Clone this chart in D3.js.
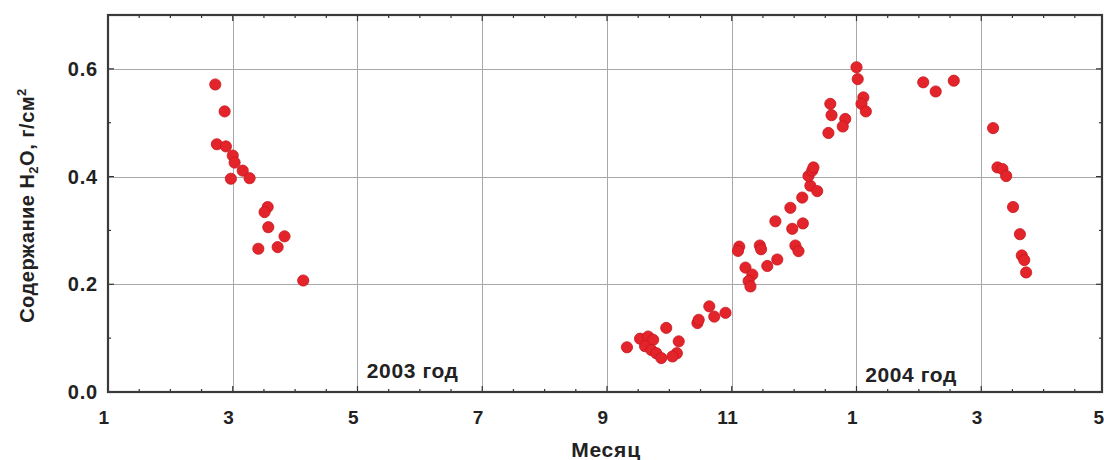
<!DOCTYPE html>
<html>
<head>
<meta charset="utf-8">
<script src="https://cdn.jsdelivr.net/npm/d3@7/dist/d3.min.js"></script>
<style>
  html, body { margin: 0; padding: 0; background: #fff; }
  svg { display: block; }
  text { font-family: "Liberation Sans", Arial, sans-serif; font-weight: bold; fill: #222; }
</style>
</head>
<body>
<svg id="chart" width="1104" height="460"></svg>
<script>
// Month index counted from January 2003 (13 = January 2004)
const months = [
  2.72, 2.87, 2.745, 2.89, 3.0, 3.03, 3.16, 2.97, 3.27, 3.56, 3.51, 3.57, 3.83, 3.41, 3.72, 4.13,
  9.32, 9.53, 9.66, 9.74, 9.61, 9.71, 9.79, 9.87, 9.95, 10.15, 10.12, 10.05, 10.45, 10.47, 10.64, 10.72, 10.90,
  11.12, 11.10, 11.45, 11.47, 11.22, 11.33, 11.27, 11.30, 11.57, 11.73, 11.70, 11.94, 12.13, 11.97, 12.14, 12.02, 12.07,
  12.26, 12.37, 12.23, 12.29, 12.31, 12.55, 12.58, 12.60, 12.82, 12.78,
  13.0, 13.02, 13.11, 13.08, 13.15, 14.07, 14.27, 14.56,
  15.19, 15.26, 15.34, 15.40, 15.51, 15.62, 15.65, 15.69, 15.72
];
const water = [
  0.571, 0.521, 0.460, 0.456, 0.439, 0.426, 0.411, 0.396, 0.397, 0.3435, 0.334, 0.306, 0.289, 0.266, 0.269, 0.207,
  0.083, 0.099, 0.103, 0.097, 0.085, 0.078, 0.072, 0.063, 0.119, 0.094, 0.072, 0.066, 0.128, 0.134, 0.159, 0.140, 0.147,
  0.270, 0.262, 0.272, 0.265, 0.231, 0.218, 0.206, 0.196, 0.234, 0.246, 0.317, 0.342, 0.361, 0.303, 0.313, 0.272, 0.2615,
  0.383, 0.373, 0.401, 0.411, 0.417, 0.481, 0.535, 0.514, 0.507, 0.493,
  0.603, 0.581, 0.547, 0.535, 0.521, 0.575, 0.558, 0.578,
  0.490, 0.417, 0.414, 0.401, 0.3435, 0.293, 0.2535, 0.245, 0.222
];
const xTicks = [1, 3, 5, 7, 9, 11, 13, 15, 17];
const xTickLabels = ["1", "3", "5", "7", "9", "11", "1", "3", "5"];
const yTicks = [0, 0.2, 0.4, 0.6];
const yearLabels = ["2003 год", "2004 год"];
const yearLabelPos = [[5.15, 0.026], [13.14, 0.019]];

const svg = d3.select("#chart");
const plotL = 108, plotR = 1102, plotT = 15, plotB = 392;

const x = d3.scaleLinear().domain([1, 16.936]).range([plotL, plotR]);
const y = d3.scaleLinear().domain([0, 0.7]).range([plotB, plotT]);

// grid
const grid = svg.append("g").attr("stroke", "#a8a8a8").attr("stroke-width", 1);
grid.selectAll(".vg").data(xTicks.filter(v => v > 1 && v < 16.9)).join("line")
  .attr("x1", d => Math.round(x(d)) + 0.5).attr("x2", d => Math.round(x(d)) + 0.5)
  .attr("y1", plotT).attr("y2", plotB);
grid.selectAll(".hg").data(yTicks.filter(v => v > 0)).join("line")
  .attr("y1", d => Math.round(y(d)) + 0.5).attr("y2", d => Math.round(y(d)) + 0.5)
  .attr("x1", plotL).attr("x2", plotR);

// minor / major ticks drawn inward on all sides
const minorX = d3.range(1, 16.94, 0.5);
const minorY = d3.range(0, 0.701, 0.1);
const ticksG = svg.append("g").attr("stroke", "#333").attr("stroke-width", 1.2);
[plotB, plotT].forEach((yy, i) => {
  const dir = i === 0 ? -1 : 1;
  ticksG.append("g").selectAll("line").data(minorX).join("line")
    .attr("x1", d => x(d)).attr("x2", d => x(d))
    .attr("y1", yy).attr("y2", d => yy + dir * (Math.abs((d - 1) % 2) < 1e-6 ? 6 : 3));
});
[plotL, plotR].forEach((xx, i) => {
  const dir = i === 0 ? 1 : -1;
  ticksG.append("g").selectAll("line").data(minorY).join("line")
    .attr("y1", d => y(d)).attr("y2", d => y(d))
    .attr("x1", xx).attr("x2", d => xx + dir * (Math.round(d * 10) % 2 === 0 ? 6 : 3));
});

// frame
svg.append("rect")
  .attr("x", plotL).attr("y", plotT).attr("width", plotR - plotL).attr("height", plotB - plotT)
  .attr("fill", "none").attr("stroke", "#3a3a3a").attr("stroke-width", 2.2);

// x tick labels
svg.append("g").selectAll("text").data(xTicks).join("text")
  .attr("x", d => Math.min(x(d) - 4, 1099))
  .attr("y", 424)
  .attr("text-anchor", "middle")
  .attr("font-size", 19)
  .attr("letter-spacing", 0.5)
  .text((d, i) => xTickLabels[i]);

// y tick labels
svg.append("g").selectAll("text").data(yTicks).join("text")
  .attr("x", 98)
  .attr("y", d => y(d) + 7)
  .attr("text-anchor", "end")
  .attr("font-size", 20)
  .attr("letter-spacing", 0.8)
  .text(d => d.toFixed(1));

// year annotations
svg.append("g").selectAll("text").data(yearLabels).join("text")
  .attr("x", (d, i) => x(yearLabelPos[i][0]))
  .attr("y", (d, i) => y(yearLabelPos[i][1]))
  .attr("font-size", 21)
  .attr("letter-spacing", 0.6)
  .text(d => d);

// axis titles
svg.append("text")
  .attr("x", 606).attr("y", 457)
  .attr("text-anchor", "middle")
  .attr("font-size", 21)
  .attr("letter-spacing", 0.8)
  .text("Месяц");

const yt = svg.append("text")
  .attr("transform", `translate(34,${(plotT + plotB) / 2 + 2}) rotate(-90)`)
  .attr("text-anchor", "middle")
  .attr("font-size", 20)
  .attr("letter-spacing", 0.5);
yt.append("tspan").text("Содержание H");
yt.append("tspan").attr("font-size", 13).attr("dy", 4).text("2");
yt.append("tspan").attr("dy", -4).text("O, г/см");
yt.append("tspan").attr("font-size", 13).attr("dy", -8).text("2");

// data points
svg.append("g").selectAll("circle").data(months).join("circle")
  .attr("cx", d => x(d))
  .attr("cy", (d, i) => y(water[i]))
  .attr("r", 5.6)
  .attr("fill", "#e3242b")
  .attr("stroke", "#c8161e")
  .attr("stroke-width", 0.8);
</script>
</body>
</html>
